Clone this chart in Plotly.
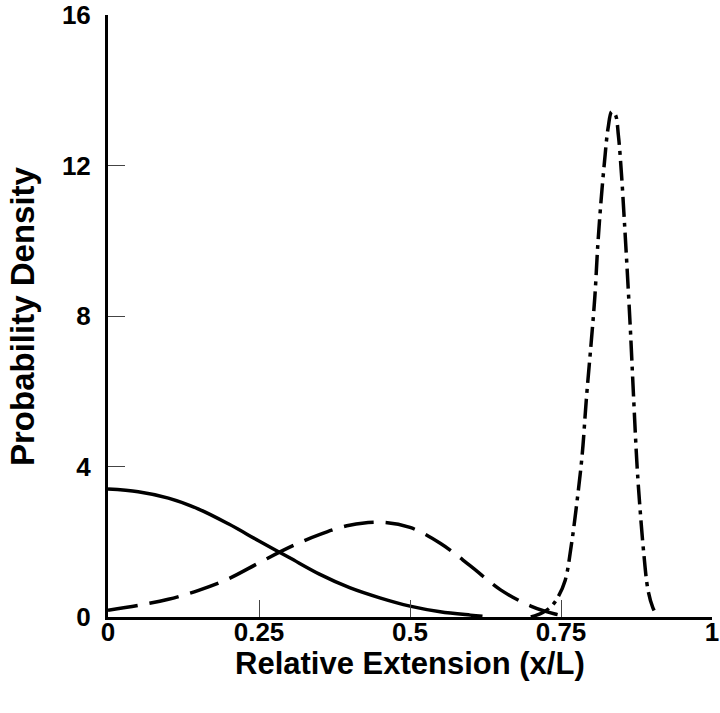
import plotly.graph_objects as go

# Solid curve
solid_x = [0, 0.05, 0.1, 0.15, 0.2, 0.25, 0.3, 0.35, 0.4, 0.45, 0.5, 0.55, 0.6, 0.62]
solid_y = [3.40, 3.33, 3.16, 2.87, 2.47, 2.02, 1.58, 1.14, 0.78, 0.51, 0.29, 0.14, 0.05, 0.02]

# Long-dash curve
dash_x = [0, 0.05, 0.1, 0.15, 0.2, 0.25, 0.3, 0.35, 0.4, 0.45, 0.5, 0.55, 0.6, 0.65, 0.7, 0.74, 0.76]
dash_y = [0.18, 0.31, 0.47, 0.71, 1.02, 1.44, 1.85, 2.19, 2.44, 2.52, 2.38, 1.96, 1.36, 0.72, 0.29, 0.08, 0.02]

# Dash-dot curve
dd_x = [0.70, 0.72, 0.735, 0.745, 0.757, 0.767, 0.776, 0.785, 0.792, 0.800, 0.806, 0.811, 0.816,
        0.822, 0.828, 0.834, 0.840, 0.845, 0.850, 0.855, 0.860, 0.865, 0.870, 0.876, 0.881,
        0.887, 0.894, 0.902, 0.909]
dd_y = [0.0, 0.12, 0.30, 0.53, 0.98, 1.90, 3.0, 4.3, 5.8, 7.3, 8.5, 9.9, 11.0,
        12.1, 13.0, 13.43, 13.35, 12.8, 11.8, 10.5, 9.1, 7.6, 5.9, 4.0, 2.85,
        1.70, 0.72, 0.25, 0.03]

x_ticks = [0, 0.25, 0.5, 0.75, 1]
x_ticktext = ["0", "0.25", "0.5", "0.75", "1"]
y_ticks = [0, 4, 8, 12, 16]
y_ticktext = ["0", "4", "8", "12", "16"]
x_title = "Relative Extension (x/L)"
y_title = "Probability Density"

FONT = "Liberation Sans, Arial, sans-serif"

fig = go.Figure()
fig.add_trace(go.Scatter(x=solid_x, y=solid_y, mode="lines",
                         line=dict(color="black", width=3.5, shape="spline")))
fig.add_trace(go.Scatter(x=dash_x, y=dash_y, mode="lines",
                         line=dict(color="black", width=3.5, dash="30px,12px", shape="spline")))
fig.add_trace(go.Scatter(x=dd_x, y=dd_y, mode="lines",
                         line=dict(color="black", width=3.5, dash="20px,6px,4px,6px", shape="spline")))

fig.update_layout(
    width=720, height=713,
    margin=dict(l=108, r=8, t=15, b=96, autoexpand=False),
    paper_bgcolor="white", plot_bgcolor="white",
    showlegend=False,
    font=dict(family=FONT, color="black"),
)
fig.update_xaxes(
    range=[0, 1], tickvals=x_ticks, ticktext=x_ticktext,
    ticks="inside", ticklen=17, tickwidth=1, tickcolor="#444",
    showline=True, linecolor="black", linewidth=3,
    showgrid=False, zeroline=False, automargin=False,
    ticklabeloverflow="allow", ticklabelstandoff=-10,
    tickfont=dict(family=FONT, size=26, color="black", weight="bold"),
)
fig.update_yaxes(
    range=[0, 16], tickvals=y_ticks, ticktext=y_ticktext,
    ticks="inside", ticklen=17, tickwidth=1, tickcolor="#444",
    showline=True, linecolor="black", linewidth=3,
    showgrid=False, zeroline=False, automargin=False,
    ticklabeloverflow="allow", ticklabelstandoff=9,
    tickfont=dict(family=FONT, size=26, color="black", weight="bold"),
)

fig.add_annotation(text=x_title, xref="paper", yref="paper", x=0.5, y=0,
                   xanchor="center", yanchor="middle", yshift=-46, showarrow=False,
                   font=dict(family=FONT, size=31, color="black", weight="bold"))
fig.add_annotation(text=y_title, xref="paper", yref="paper", x=0, y=0.5,
                   xanchor="center", yanchor="middle", xshift=-86, textangle=-90,
                   showarrow=False,
                   font=dict(family=FONT, size=33, color="black", weight="bold"))

fig.write_html("out.html", config={"displayModeBar": False},
               post_script="document.body.style.margin='0';")
